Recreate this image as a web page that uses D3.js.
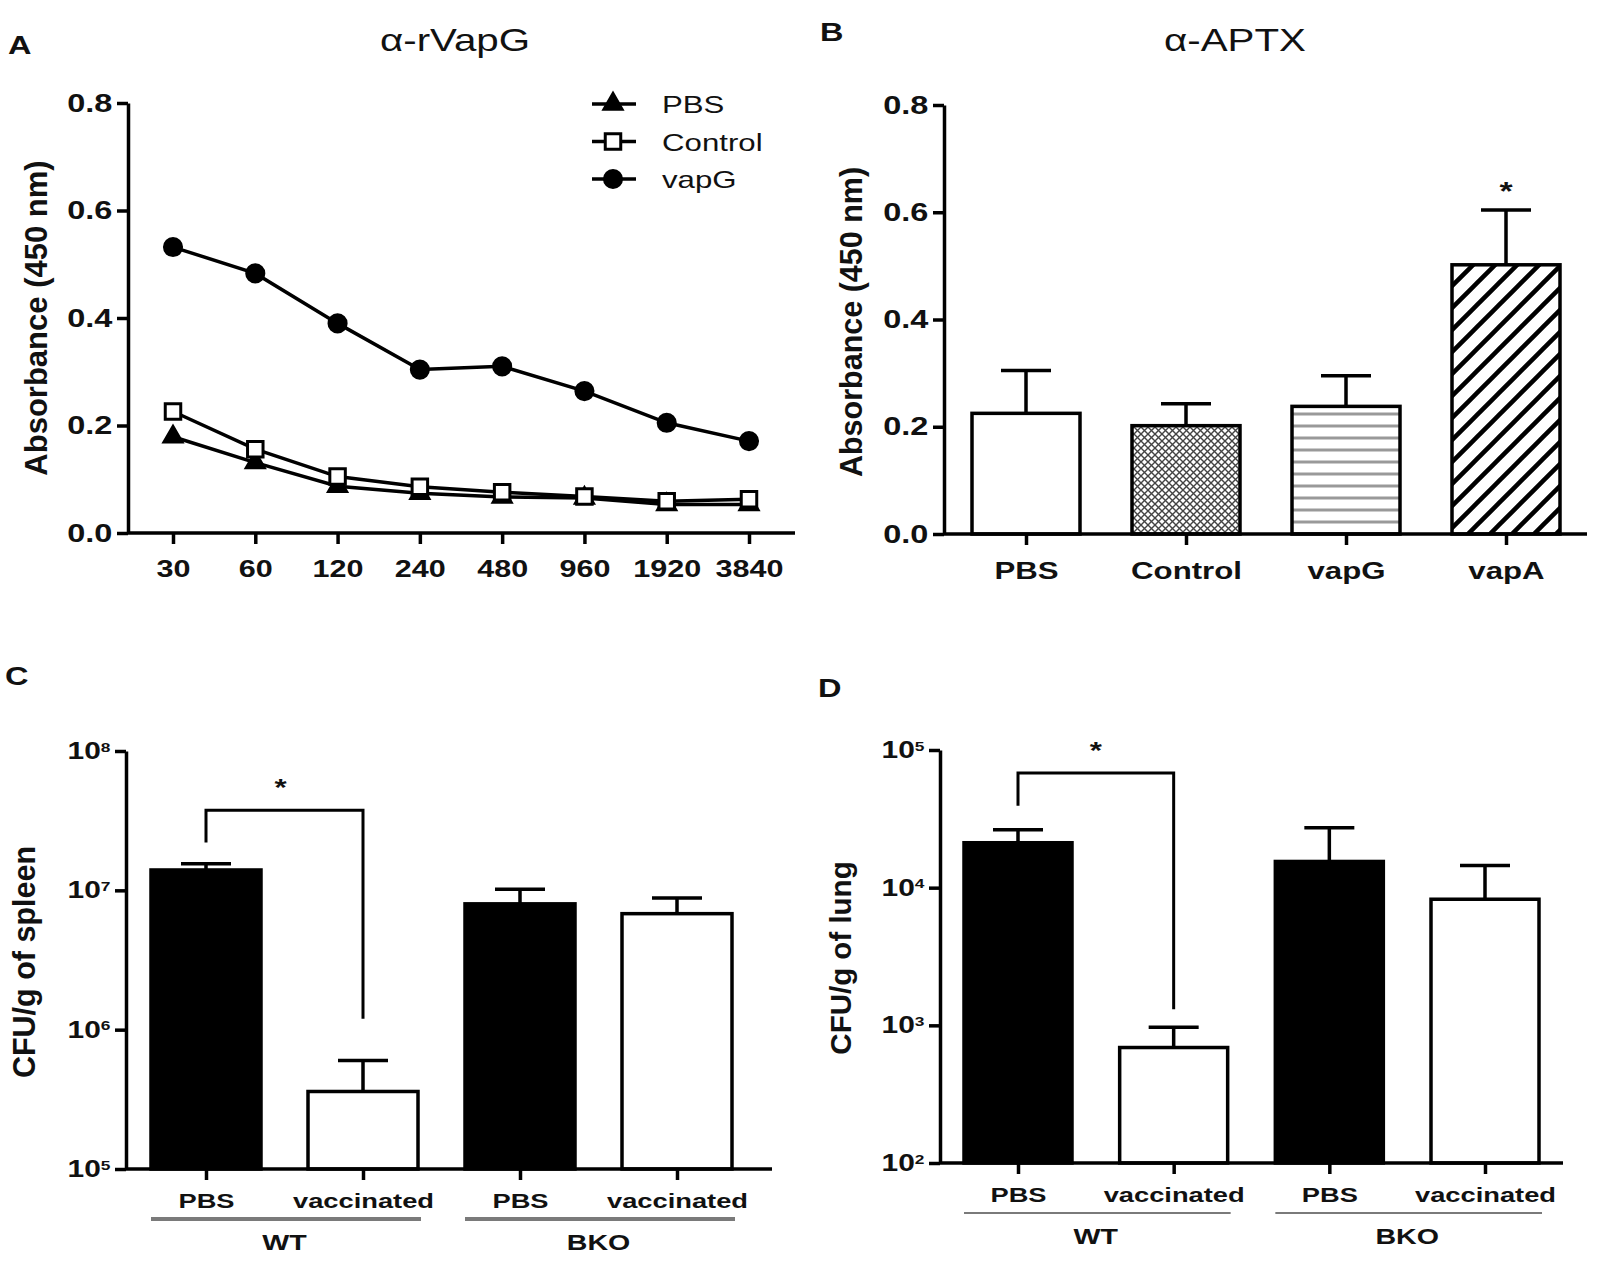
<!DOCTYPE html>
<html>
<head>
<meta charset="utf-8">
<script src="https://cdn.jsdelivr.net/npm/d3@7"></script>
<style>
  body { margin: 0; background: #fff; }
  text { font-family: "Liberation Sans", Arial, sans-serif; fill: #111; }
</style>
</head>
<body>
<div id="fig"></div>
<script>
// panel A: antibody titration
var dilutions = ["30", "60", "120", "240", "480", "960", "1920", "3840"];
var pbsA = [0.179, 0.131, 0.087, 0.074, 0.067, 0.065, 0.053, 0.053];
var controlA = [0.226, 0.156, 0.105, 0.086, 0.076, 0.068, 0.059, 0.063];
var vapgA = [0.532, 0.483, 0.390, 0.304, 0.310, 0.264, 0.205, 0.171];
var absTicks = [0, 0.2, 0.4, 0.6, 0.8];

// panel B: alpha-APTX
var aptxGroups = ["PBS", "Control", "vapG", "vapA"];
var aptxMean = [0.225, 0.202, 0.238, 0.502];
var aptxUpper = [0.305, 0.243, 0.295, 0.604];

// panels C and D: bacterial load
var cfuGroups = ["PBS", "vaccinated", "PBS", "vaccinated"];
var cfuStrain = ["WT", "BKO"];
var spleenMean = [1.4e7, 3.6e5, 8.0e6, 6.8e6];
var spleenUpper = [1.55e7, 6.0e5, 1.02e7, 8.8e6];
var spleenBracket = [2.2e7, 3.75e7, 1.2e6]; // left end, top, right end
var lungMean = [2.12e4, 690, 1.55e4, 8240];
var lungUpper = [2.63e4, 968, 2.72e4, 1.45e4];
var lungBracket = [3.93e4, 6.8e4, 1306];

var SX = 1.3; // horizontal text stretch of the scanned figure
var W = 1600, H = 1277;

var svg = d3.select("#fig").append("svg")
    .attr("width", W)
    .attr("height", H)
    .attr("viewBox", "0 0 " + W + " " + H);

var defs = svg.append("defs");

// fill patterns for panel B
var cross = defs.append("pattern").attr("id", "cross")
    .attr("width", 7).attr("height", 7).attr("patternUnits", "userSpaceOnUse");
cross.append("rect").attr("width", 7).attr("height", 7).attr("fill", "#fff");
cross.append("path").attr("d", "M0,0L7,7M7,0L0,7")
    .attr("stroke", "#444").attr("stroke-width", 1.4);

var hlines = defs.append("pattern").attr("id", "hlines")
    .attr("width", 12).attr("height", 12).attr("patternUnits", "userSpaceOnUse");
hlines.append("rect").attr("width", 12).attr("height", 12).attr("fill", "#fff");
hlines.append("path").attr("d", "M0,6H12").attr("stroke", "#999").attr("stroke-width", 3);

var diag = defs.append("pattern").attr("id", "diag")
    .attr("width", 22).attr("height", 22).attr("patternUnits", "userSpaceOnUse");
diag.append("rect").attr("width", 22).attr("height", 22).attr("fill", "#fff");
diag.append("path").attr("d", "M0,22L22,0M-6,6L6,-6M16,28L28,16")
    .attr("stroke", "#000").attr("stroke-width", 4.5);

var txt = function(g, x, y, s, o) {
    o = o || {};
    return g.append("text")
        .attr("transform", "translate(" + x + "," + y + ") scale(" + SX + ",1)")
        .attr("text-anchor", o.anchor || "middle")
        .attr("font-size", o.size || 25)
        .attr("font-weight", o.weight || "bold")
        .text(s);
};

var vtxt = function(g, x, y, s, size) {
    return g.append("text")
        .attr("transform", "translate(" + x + "," + y + ") rotate(-90)")
        .attr("text-anchor", "middle")
        .attr("font-size", size)
        .attr("font-weight", "bold")
        .text(s);
};

var styleAxis = function(ax, size) {
    ax.selectAll("path, line").attr("stroke", "#000").attr("stroke-width", 3.5);
    ax.selectAll("text")
        .attr("font-family", "Liberation Sans, Arial, sans-serif")
        .attr("font-size", size)
        .attr("font-weight", "bold")
        .attr("fill", "#111");
};

var leftAxis = function(g, y, x0, ticks, fmt, size) {
    var ax = g.append("g").attr("transform", "translate(" + x0 + ",0)")
        .call(d3.axisLeft(y).tickValues(ticks).tickFormat(fmt)
            .tickSize(11).tickSizeOuter(0).tickPadding(1));
    styleAxis(ax, size);
    ax.selectAll("text").attr("transform", "scale(" + SX + ",1)");
    return ax;
};

var bottomAxis = function(g, x, y0, x0, x1, pad, size) {
    var ax = g.append("g").attr("transform", "translate(0," + y0 + ")")
        .call(d3.axisBottom(x).tickSize(11).tickSizeOuter(0).tickPadding(pad));
    ax.select(".domain").remove();
    ax.append("line").attr("x1", x0).attr("x2", x1)
        .attr("stroke", "#000").attr("stroke-width", 3.5);
    styleAxis(ax, size);
    ax.selectAll(".tick text").attr("transform", "scale(" + SX + ",1)");
    return ax;
};

var superscript = function(ax) {
    ax.selectAll(".tick text").each(function(d) {
        var t = d3.select(this).text("");
        t.append("tspan").text("10");
        t.append("tspan").attr("dy", "-0.55em").attr("font-size", "58%")
            .text(Math.round(Math.log10(d)));
    });
};

// ---------- Panel A ----------
(function() {
    var g = svg.append("g");
    txt(g, 8, 54, "A", { anchor: "start", size: 25 });
    txt(g, 455, 51, "\u03b1-rVapG", { size: 31, weight: "normal" });

    var x = d3.scalePoint().domain(dilutions).range([173, 749]);
    var y = d3.scaleLinear().domain([0, 0.8]).range([533, 103]);

    leftAxis(g, y, 128, absTicks, d3.format(".1f"), 25);
    bottomAxis(g, x, 533, 128, 795, 16, 23.5);
    vtxt(g, 47, 318, "Absorbance (450 nm)", 31);

    var line = d3.line().x(function(d, i) { return x(dilutions[i]); }).y(function(d) { return y(d); });
    var series = [
        { name: "PBS", vals: pbsA, sym: d3.symbolTriangle, size: 140, fill: "#000" },
        { name: "Control", vals: controlA, sym: d3.symbolSquare, size: 240, fill: "#fff" },
        { name: "vapG", vals: vapgA, sym: d3.symbolCircle, size: 230, fill: "#000" }
    ];
    series.forEach(function(s) {
        g.append("path").datum(s.vals).attr("d", line)
            .attr("fill", "none").attr("stroke", "#000").attr("stroke-width", 3.5);
    });
    series.forEach(function(s) {
        g.selectAll(null).data(s.vals).enter().append("path")
            .attr("transform", function(d, i) { return "translate(" + x(dilutions[i]) + "," + y(d) + ")"; })
            .attr("d", d3.symbol().type(s.sym).size(s.size))
            .attr("fill", s.fill).attr("stroke", "#000").attr("stroke-width", 3);
    });

    // legend
    var lg = g.append("g");
    series.forEach(function(s, i) {
        var ly = 104 + i * 37.5;
        lg.append("line").attr("x1", 592).attr("x2", 636).attr("y1", ly).attr("y2", ly)
            .attr("stroke", "#000").attr("stroke-width", 3.5);
        lg.append("path").attr("transform", "translate(613," + ly + ")")
            .attr("d", d3.symbol().type(s.sym).size(s.size))
            .attr("fill", s.fill).attr("stroke", "#000").attr("stroke-width", 3);
        txt(lg, 662, ly + 9, s.name, { anchor: "start", size: 24, weight: "normal" });
    });
})();

// ---------- Panel B ----------
(function() {
    var g = svg.append("g");
    txt(g, 820, 41, "B", { anchor: "start", size: 25 });
    txt(g, 1235, 51, "\u03b1-APTX", { size: 31, weight: "normal" });

    var x = d3.scalePoint().domain(aptxGroups).range([1026, 1506]);
    var y = d3.scaleLinear().domain([0, 0.8]).range([534, 105]);
    var bw = 108;
    var fills = ["#fff", "url(#cross)", "url(#hlines)", "url(#diag)"];

    // error bars first so the bar outline sits on top
    g.selectAll(".err").data(aptxUpper).enter().append("path")
        .attr("d", function(d, i) {
            var cx = x(aptxGroups[i]);
            return "M" + cx + "," + y(aptxMean[i]) + "V" + y(d) + "M" + (cx - 25) + "," + y(d) + "H" + (cx + 25);
        })
        .attr("stroke", "#000").attr("stroke-width", 3.5).attr("fill", "none");
    g.selectAll(".bar").data(aptxMean).enter().append("rect")
        .attr("x", function(d, i) { return x(aptxGroups[i]) - bw / 2; })
        .attr("width", bw)
        .attr("y", function(d) { return y(d); })
        .attr("height", function(d) { return y(0) - y(d); })
        .attr("fill", function(d, i) { return fills[i]; })
        .attr("stroke", "#000").attr("stroke-width", 3.5);

    leftAxis(g, y, 944, absTicks, d3.format(".1f"), 25);
    bottomAxis(g, x, 534, 944, 1587, 17, 24);
    vtxt(g, 862, 322, "Absorbance (450 nm)", 30.5);

    txt(g, x("vapA"), 200, "*", { size: 26 });
})();

// ---------- Panels C and D ----------
var cfuPanel = function(o) {
    var g = svg.append("g");
    txt(g, o.lx, o.ly, o.letter, { anchor: "start", size: 25 });

    var x = d3.scalePoint().domain(d3.range(4)).range(o.xr);
    var y = d3.scaleLog().domain(o.domain).range(o.yr);
    var bw = o.bw;
    var base = y(o.domain[0]);

    g.selectAll(".err").data(o.upper).enter().append("path")
        .attr("d", function(d, i) {
            var cx = x(i);
            return "M" + cx + "," + y(o.mean[i]) + "V" + y(d) + "M" + (cx - o.cap / 2) + "," + y(d) + "H" + (cx + o.cap / 2);
        })
        .attr("stroke", "#000").attr("stroke-width", 3.5).attr("fill", "none");
    g.selectAll(".bar").data(o.mean).enter().append("rect")
        .attr("x", function(d, i) { return x(i) - bw / 2; })
        .attr("width", bw)
        .attr("y", function(d) { return y(d); })
        .attr("height", function(d) { return base - y(d); })
        .attr("fill", function(d, i) { return i % 2 ? "#fff" : "#000"; })
        .attr("stroke", "#000").attr("stroke-width", 3.5);

    var decades = d3.range(Math.log10(o.domain[0]), Math.log10(o.domain[1]) + 1).map(function(e) { return Math.pow(10, e); });
    var ay = leftAxis(g, y, o.ax, decades, function(d) { return d; }, 23);
    superscript(ay);

    var axb = bottomAxis(g, x, base, o.ax, o.axEnd, 13, 21);
    axb.selectAll(".tick text").text(function(d) { return cfuGroups[d]; });

    // strain groups
    cfuStrain.forEach(function(s, k) {
        var a = x(2 * k) - bw / 2, b = x(2 * k + 1) + bw / 2 + o.over;
        g.append("line").attr("x1", a).attr("x2", b).attr("y1", o.gy).attr("y2", o.gy)
            .attr("stroke", "#7a7a7a").attr("stroke-width", o.gw);
        txt(g, (x(2 * k) + x(2 * k + 1)) / 2, o.gy + 31, s, { size: 22 });
    });

    // significance bracket between the WT groups
    var br = o.bracket;
    g.append("path")
        .attr("d", "M" + x(0) + "," + y(br[0]) + "V" + y(br[1]) + "H" + x(1) + "V" + y(br[2]))
        .attr("fill", "none").attr("stroke", "#000").attr("stroke-width", 3);
    txt(g, (x(0) + x(1)) / 2 + o.starDx, y(br[1]) - 14, "*", { size: 24 });

    vtxt(g, o.tx, o.ty, o.title, o.ts);
};

cfuPanel({
    letter: "C", lx: 5, ly: 685,
    mean: spleenMean, upper: spleenUpper, bracket: spleenBracket,
    domain: [1e5, 1e8], yr: [1169, 751],
    xr: [206, 677], bw: 110, cap: 50, ax: 126, axEnd: 772,
    gy: 1219, gw: 4, over: 3, starDx: -4,
    tx: 35, ty: 962, title: "CFU/g of spleen", ts: 30.5
});

cfuPanel({
    letter: "D", lx: 818, ly: 697,
    mean: lungMean, upper: lungUpper, bracket: lungBracket,
    domain: [1e2, 1e5], yr: [1163, 750],
    xr: [1018, 1485], bw: 108, cap: 50, ax: 940, axEnd: 1563,
    gy: 1213, gw: 2, over: 3, starDx: 0,
    tx: 851, ty: 958, title: "CFU/g of lung", ts: 29.5
});
</script>
</body>
</html>
